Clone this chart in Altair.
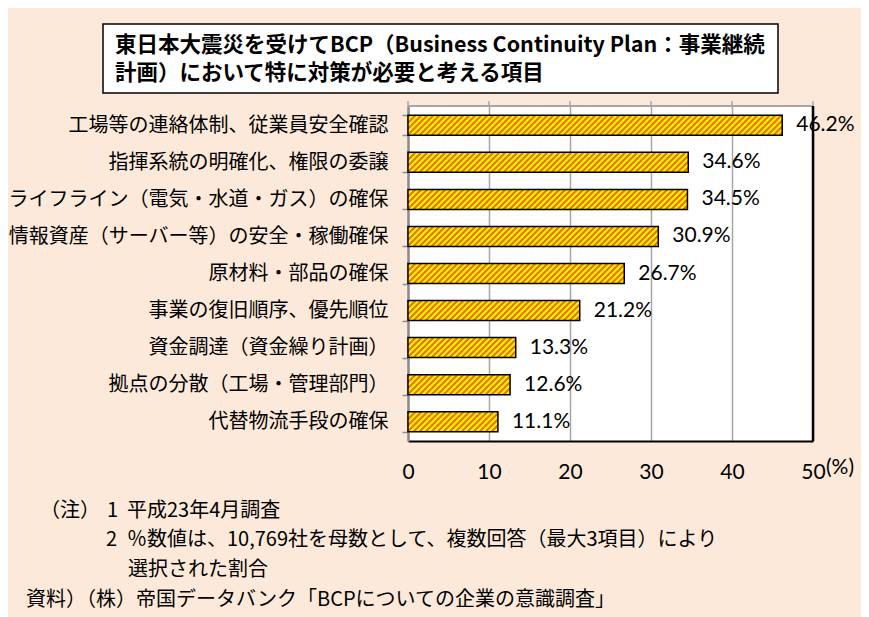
import altair as alt
import pandas as pd

# ---- data ----
items = [
    "工場等の連絡体制、従業員安全確認",
    "指揮系統の明確化、権限の委譲",
    "ライフライン（電気・水道・ガス）の確保",
    "情報資産（サーバー等）の安全・稼働確保",
    "原材料・部品の確保",
    "事業の復旧順序、優先順位",
    "資金調達（資金繰り計画）",
    "拠点の分散（工場・管理部門）",
    "代替物流手段の確保",
]
values = [46.2, 34.6, 34.5, 30.9, 26.7, 21.2, 13.3, 12.6, 11.1]
x_ticks = [0, 10, 20, 30, 40, 50]
title_lines = [
    "東日本大震災を受けてBCP（Business Continuity Plan：事業継続",
    "計画）において特に対策が必要と考える項目",
]
note_heads = ["（注）", "1", "2"]
note_lines = [
    "平成23年4月調査",
    "％数値は、10,769社を母数として、複数回答（最大3項目）により",
    "選択された割合",
]
source_line = "資料）（株）帝国データバンク「BCPについての企業の意識調査」"

df = pd.DataFrame({"item": items, "value": values})
ticks_df = pd.DataFrame({"value": x_ticks})

# ---- layout constants ----
W, H = 405, 335
P_IN, P_OUT = 0.46, 0.25
JP = "Noto Sans CJK JP"
LAT = "Lato"
step = H / (len(items) - P_IN + 2 * P_OUT)
bar_h = step * (1 - P_IN)


def stripe_gradient(w, h, period=6.0):
    a, b = 1.0 / h, 1.0 / w
    k = (a + b) / (a * a + b * b)
    n = (w + h) / period
    stops = []
    i = 0
    while i / n < 1:
        for off, col in [(0.1, "#E67800"), (0.4, "#E67800"), (0.6, "#FFF000"), (0.9, "#FFF000")]:
            o = min(1.0, (i + off) / n)
            stops.append({"offset": o, "color": col})
        i += 1
    return {"gradient": "linear", "x1": 0, "y1": 0, "x2": a * k, "y2": b * k, "stops": stops}


conds = []
for it, v in zip(items, values):
    conds.append({"test": f"datum.item == '{it}'", "value": stripe_gradient(v / 50 * W, bar_h)})

xs = alt.Scale(domain=[0, 50], nice=False)
ys = alt.Scale(domain=items, paddingInner=P_IN, paddingOuter=P_OUT)

x_bottom = alt.X(
    "value:Q", scale=xs,
    axis=alt.Axis(values=x_ticks, title=None, grid=True, gridColor="#A6A6A6", gridWidth=1.5,
                  domainColor="black", domainWidth=2, ticks=False, labelPadding=20,
                  labelFlush=False, labelFont=LAT, labelFontSize=21, labelColor="black"),
)
y_enc = alt.Y(
    "item:N", scale=ys, sort=items,
    axis=alt.Axis(title=None, domainColor="#8C8C8C", domainWidth=2.5, tickColor="#8C8C8C",
                  tickWidth=1.5, tickSize=6, tickBand="extent", labelPadding=14,
                  labelFont=JP, labelFontSize=20, labelColor="black", labelLimit=0),
)

bars = alt.Chart(df).mark_bar(stroke="black", strokeWidth=1.5).encode(
    x=x_bottom, y=y_enc, fill={"condition": conds, "value": "#F2B000"}
)

labels = alt.Chart(df).transform_calculate(
    lab="format(datum.value, '.1f') + '%'"
).mark_text(align="left", baseline="middle", dx=14, font=LAT, fontSize=21, color="black").encode(
    x=alt.X("value:Q", scale=xs),
    y=alt.Y("item:N", scale=ys, sort=items),
    text="lab:N",
)

# frame: gray top line with small ticks above, black right line
top_line = alt.Chart(pd.DataFrame({"a": [0]})).mark_rule(color="#A6A6A6", strokeWidth=2).encode(
    x=alt.value(0), x2=alt.value(W), y=alt.value(0)
)
top_ticks = alt.Chart(ticks_df).mark_rule(color="#A6A6A6", strokeWidth=1.5).encode(
    x=alt.X("value:Q", scale=xs), y=alt.value(-5), y2=alt.value(0)
)
right_border = alt.Chart(pd.DataFrame({"value": [50]})).mark_rule(color="black", strokeWidth=2.5).encode(
    x=alt.X("value:Q", scale=xs)
)

title_box = alt.Chart(pd.DataFrame({"a": [0]})).mark_rect(
    fill="white", stroke="black", strokeWidth=1.5
).encode(x=alt.value(-305), x2=alt.value(370), y=alt.value(-82), y2=alt.value(-13))


def text_layer(t, px, py, size=20, weight="normal", font=JP):
    return alt.Chart(pd.DataFrame({"t": [t]})).mark_text(
        align="left", baseline="middle", font=font, fontSize=size, fontWeight=weight, color="black"
    ).encode(x=alt.value(px), y=alt.value(py), text="t:N")


texts = [
    text_layer(title_lines[0], -293, -60, 21.5, "bold"),
    text_layer(title_lines[1], -293, -32, 21.5, "bold"),
    text_layer("(%)", 418, 362, 21, "normal", LAT),
    text_layer(note_heads[0], -368, 405),
    text_layer(note_heads[1], -301, 405),
    text_layer(note_heads[2], -302, 434),
    text_layer(note_lines[0], -281, 405),
    text_layer(note_lines[1], -281, 434),
    text_layer(note_lines[2], -280, 464),
    text_layer(source_line, -382, 494),
]

chart = alt.layer(
    bars, labels, top_line, top_ticks, right_border, title_box, *texts
).properties(
    width=W, height=H,
    autosize=alt.AutoSizeParams(type="none"),
    padding={"left": 400, "top": 98, "right": 48, "bottom": 176},
    background="#FDE9D9",
).configure_view(fill="white", stroke=None)

chart.save("out.html", embed_options={"renderer": "svg", "actions": False})
